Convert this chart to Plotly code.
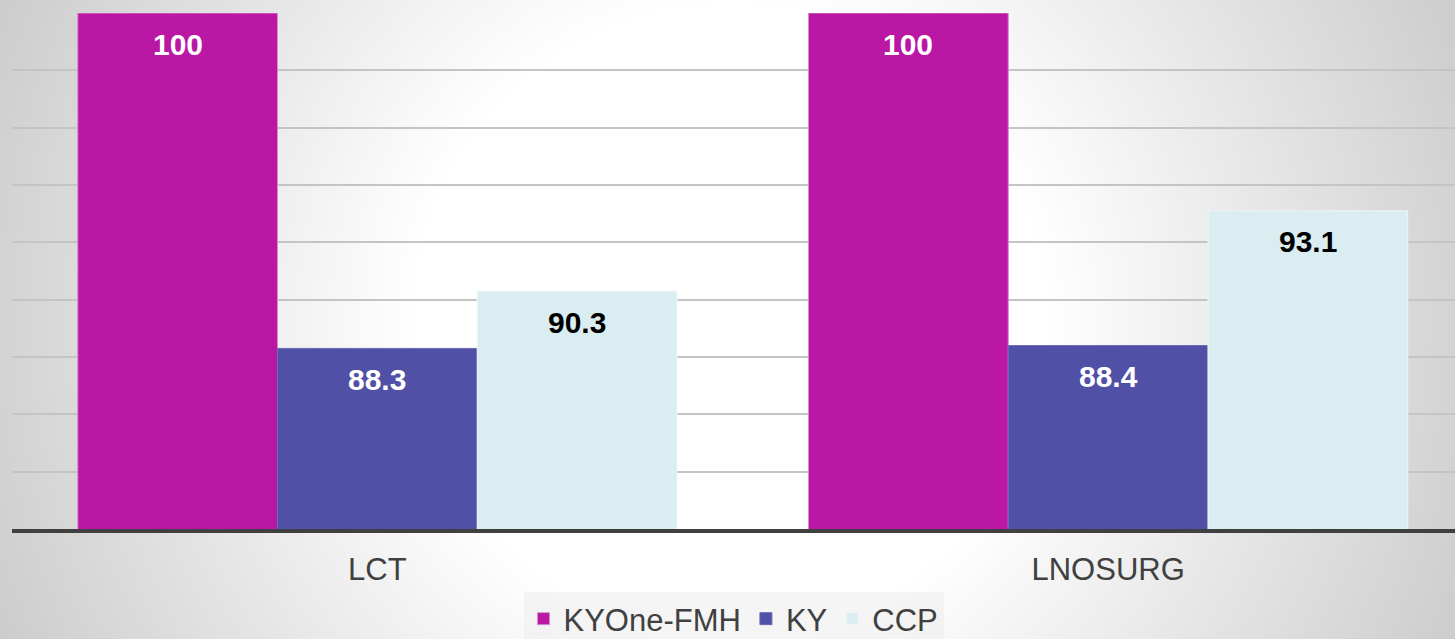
import base64
import plotly.graph_objects as go

categories = ["LCT", "LNOSURG"]
series_names = ["KYOne-FMH", "KY", "CCP"]
kyone_fmh = [100, 100]
ky = [88.3, 88.4]
ccp = [90.3, 93.1]

colors = ["#BA17A5", "#5050A6", "#DAEDF0"]
label_colors = ["white", "white", "black"]
edge_colors = ["#D98BCF", "#6A6AB5", "#EEF6F7"]

W, H = 1455, 639
L, R, T, B = 12, 0, 13, 110
BARGAP = 0.18

# radial grey background like the slide behind the chart
svg = (
    f'<svg xmlns="http://www.w3.org/2000/svg" width="{W}" height="{H}">'
    '<defs><radialGradient id="g" gradientUnits="userSpaceOnUse" cx="730" cy="320" r="950">'
    '<stop offset="0" stop-color="#ffffff"/><stop offset="0.33" stop-color="#ffffff"/>'
    '<stop offset="1" stop-color="#bcbcbc"/></radialGradient></defs>'
    f'<rect width="{W}" height="{H}" fill="url(#g)"/></svg>'
)
bg_src = "data:image/svg+xml;base64," + base64.b64encode(svg.encode()).decode()

fig = go.Figure()
values = [kyone_fmh, ky, ccp]
for name, vals, col, edge in zip(series_names, values, colors, edge_colors):
    fig.add_trace(go.Bar(
        x=categories, y=vals, name=name,
        marker=dict(color=col, line=dict(color=edge, width=1)),
    ))

# value labels near the top of each bar
bar_w = (1 - BARGAP) / len(series_names)
annotations = []
for s, vals in enumerate(values):
    for i, v in enumerate(vals):
        annotations.append(dict(
            x=i + (s - 1) * bar_w, y=v, xref="x", yref="y",
            text=f"{v:g}", showarrow=False, yanchor="middle", yshift=-31,
            font=dict(family="Liberation Sans", size=30, color=label_colors[s], weight="bold"),
        ))

pw = W - L - R
ph = H - T - B
fig.update_layout(
    width=W, height=H,
    margin=dict(l=L, r=R, t=T, b=B, autoexpand=False),
    barmode="group", bargap=BARGAP, bargroupgap=0,
    paper_bgcolor="white", plot_bgcolor="rgba(0,0,0,0)",
    font=dict(family="Liberation Sans", color="#404040"),
    showlegend=True,
    legend=dict(
        orientation="h", x=0.5, xanchor="center", y=-(592 - (H - B)) / ph, yanchor="top",
        font=dict(size=31, color="#404040"), bgcolor="rgba(236,236,236,0.55)",
        itemwidth=30, traceorder="normal",
    ),
    xaxis=dict(
        range=[-0.5, 1 + (W - R - 1108) / 731],
        showline=True, linecolor="#404040", linewidth=4,
        showgrid=False, ticks="", tickfont=dict(size=31, color="#404040"),
        ticklabelstandoff=10,
    ),
    yaxis=dict(
        range=[82, 100], dtick=2, showgrid=True, gridcolor="#C4C4C4", gridwidth=1.5,
        showticklabels=False, zeroline=False, showline=False,
    ),
    annotations=annotations,
    images=[dict(
        source=bg_src, xref="paper", yref="paper",
        x=-L / pw, y=1 + T / ph, sizex=W / pw, sizey=H / ph,
        xanchor="left", yanchor="top", sizing="stretch", layer="below",
    )],
)

fig.write_html("out.html", config={"displayModeBar": False},
               post_script="document.body.style.margin='0';")
